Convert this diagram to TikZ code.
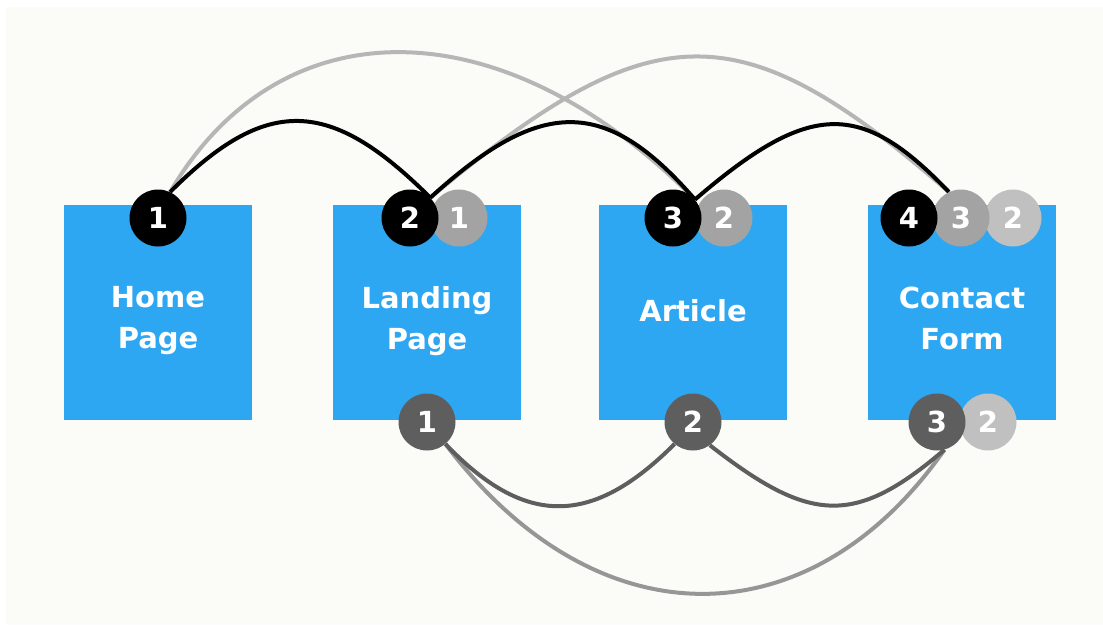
\documentclass[tikz,border=0pt]{standalone}
\usepackage{fontspec}
\setmainfont{DejaVu Sans}
\usepackage{tikz}
\usetikzlibrary{positioning, backgrounds}

\definecolor{pageblue}{RGB}{46,167,243}
\definecolor{paper}{RGB}{251,252,247}
\definecolor{stepgrey}{RGB}{163,163,163}
\definecolor{stepsilver}{RGB}{192,192,192}
\definecolor{backgrey}{RGB}{94,94,94}
\definecolor{trailgrey}{RGB}{182,182,182}
\definecolor{lowgrey}{RGB}{150,150,150}

\begin{document}
\begin{tikzpicture}[x=1pt, y=-1pt,
    page/.style={fill=pageblue, minimum width=188pt, minimum height=215pt, inner sep=0pt},
    pagename/.style={text=white, inner sep=0pt, align=center,
                     font=\fontsize{29}{41}\selectfont\bfseries},
    visit/.style={circle, fill=#1, text=white, minimum size=57pt, inner sep=0pt,
                  font=\fontsize{29}{29}\selectfont\bfseries},
    hop/.style={draw=#1, line width=4pt}]
    \useasboundingbox (0,0) rectangle (1103,625);

    \node[page] (home)    at (158,312) {};
    \node[page] (landing) at (427,312) {};
    \node[page] (article) at (693,312) {};
    \node[page] (contact) at (962,312) {};
    \node[pagename] (home-name)    at (158,321) {Home\\Page};
    \node[pagename] (landing-name) at (427,321) {Landing\\Page};
    \node[pagename] (article-name) at (693,311) {Article};
    \node[pagename] (contact-name) at (962,318) {Contact\\Form};

    % visits along the top
    \node[visit=black]      (h1) at (158,218) {1};
    \node[visit=stepgrey]   (l1) at (459,218) {1};
    \node[visit=black]      (l2) at (410,218) {2};
    \node[visit=stepgrey]   (a2) at (724,218) {2};
    \node[visit=black]      (a3) at (673,218) {3};
    \node[visit=stepsilver] (c2) at (1013,218) {2};
    \node[visit=stepgrey]   (c3) at (961,218) {3};
    \node[visit=black]      (c4) at (909,218) {4};

    % visits along the bottom
    \node[visit=backgrey]   (lb1) at (427,422) {1};
    \node[visit=backgrey]   (ab2) at (693,422) {2};
    \node[visit=stepsilver] (cb2) at (988,422) {2};
    \node[visit=backgrey]   (cb3) at (937,422) {3};

    \begin{scope}[on background layer]
        \fill[white] (0,0) rectangle (1103,625);
        \fill[paper] (6,7) rectangle (1103,625);

        \draw[hop=trailgrey] (h1.65) .. controls +(110,-188) and +(-193,-195) .. (a3.40);
        \draw[hop=trailgrey] (l2.45) .. controls +(223,-187) and +(-209,-182) .. (c3.115);
        \draw[hop=black] (h1.65) .. controls +(96,-96) and +(-101,-101) .. (l2.45);
        \draw[hop=black] (l2.45) .. controls +(110,-100) and +(-90,-104) .. (a3.40);
        \draw[hop=black] (a3.40) .. controls +(115,-99) and +(-88,-92) .. (c3.115);

        \draw[hop=lowgrey] (lb1.310) .. controls +(150,199) and +(-135,193) .. (cb3.285);
        \draw[hop=backgrey] (lb1.310) .. controls +(81,85) and +(-81,81) .. (ab2.230);
        \draw[hop=backgrey] (ab2.306) .. controls +(100,78) and +(-90,77) .. (cb3.285);
    \end{scope}
\end{tikzpicture}
\end{document}
